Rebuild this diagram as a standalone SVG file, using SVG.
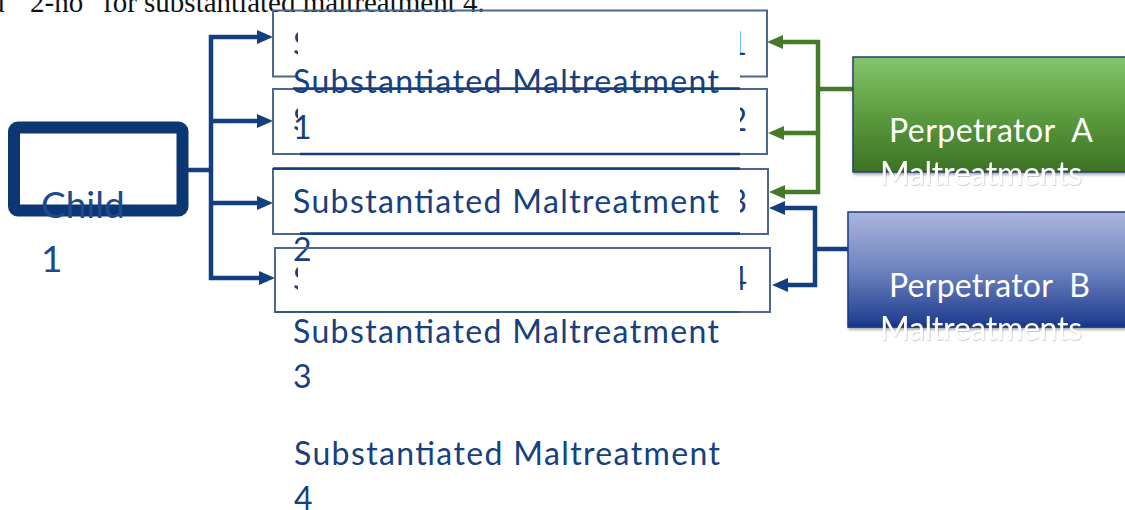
<svg xmlns="http://www.w3.org/2000/svg" width="1125" height="510" viewBox="0 0 1125 510">
<defs>
  <style>
    .top { font-family: "Liberation Serif", serif; font-size: 29px; fill: #111; }
    .lbl { font-family: Lato, "Liberation Sans", sans-serif; font-size: 32px; fill: #16407e; }
    .child { font-family: Lato, "Liberation Sans", sans-serif; font-size: 37px; fill: #1d4b8a; }
    .perp { font-family: Lato, "Liberation Sans", sans-serif; font-size: 32px; fill: #ffffff; }
    .box { fill: none; stroke: #4a6790; stroke-width: 2; }
    .dark { stroke: #123e7e; stroke-width: 2.5; fill: none; }
    .cb { fill: none; stroke: #133f80; stroke-width: 4.5; }
    .cg { fill: none; stroke: #467a2a; stroke-width: 4.5; }
  </style>
  <marker id="ab" markerUnits="userSpaceOnUse" markerWidth="17" markerHeight="14" refX="4" refY="7" orient="auto">
    <path d="M0,0 L16,7 L0,14 z" fill="#133f80"/>
  </marker>
  <marker id="ag" markerUnits="userSpaceOnUse" markerWidth="17" markerHeight="14" refX="4" refY="7" orient="auto">
    <path d="M0,0 L16,7 L0,14 z" fill="#467a2a"/>
  </marker>
  <linearGradient id="gA" x1="0" y1="0" x2="0" y2="1">
    <stop offset="0" stop-color="#83c56b"/>
    <stop offset="0.5" stop-color="#5c9c3f"/>
    <stop offset="1" stop-color="#3c7224"/>
  </linearGradient>
  <linearGradient id="gB" x1="0" y1="0" x2="0" y2="1">
    <stop offset="0" stop-color="#aab6dc"/>
    <stop offset="0.5" stop-color="#6f83bf"/>
    <stop offset="1" stop-color="#1c3a8e"/>
  </linearGradient>
  <filter id="sh" x="-10%" y="-20%" width="120%" height="150%">
    <feDropShadow dx="1" dy="2" stdDeviation="1.5" flood-color="#000" flood-opacity="0.35"/>
  </filter>
  <filter id="tsh" x="-5%" y="-30%" width="110%" height="160%">
    <feDropShadow dx="0.5" dy="0.6" stdDeviation="0.6" flood-color="#444" flood-opacity="0.45"/>
  </filter>
  <clipPath id="peek">
    <rect x="0" y="0" width="298" height="510"/>
    <rect x="740" y="0" width="100" height="510"/>
  </clipPath>
</defs>

<text class="top" y="12"><tspan x="-10">d</tspan><tspan x="30">2-no</tspan><tspan x="103">for substantiated maltreatment 4.</tspan></text>

<g id="connectors">
  <path class="cb" d="M180,170 H211"/>
  <path class="cb" d="M211,35 V280"/>
  <path class="cb" d="M209,37 H261" marker-end="url(#ab)"/>
  <path class="cb" d="M211,121 H261" marker-end="url(#ab)"/>
  <path class="cb" d="M211,203 H261" marker-end="url(#ab)"/>
  <path class="cb" d="M209,278 H263" marker-end="url(#ab)"/>
  <path class="cg" d="M853,89 H818"/>
  <path class="cg" d="M818,40 V194"/>
  <path class="cg" d="M820,42 H779" marker-end="url(#ag)"/>
  <path class="cg" d="M818,133 H780" marker-end="url(#ag)"/>
  <path class="cg" d="M820,192 H781" marker-end="url(#ag)"/>
  <path class="cb" d="M849,249 H815"/>
  <path class="cb" d="M815,206 V287"/>
  <path class="cb" d="M817,208 H781" marker-end="url(#ab)"/>
  <path class="cb" d="M817,285 H784" marker-end="url(#ab)"/>
</g>

<g id="child">
  <rect x="14" y="127.5" width="168.5" height="83" rx="4" fill="none" stroke="#0c3774" stroke-width="12"/>
  <text class="child" x="41" y="218">Child</text>
  <text class="child" x="41" y="272">1</text>
</g>

<g id="sm1">
  <rect class="box" x="273" y="10.5" width="494" height="66"/>
  <text class="lbl" x="293" y="55" clip-path="url(#peek)" textLength="454">Substantiated Maltreatment 1</text>
  <rect x="298" y="12" width="442" height="66" fill="#fff"/>
  <text class="lbl" x="293" y="93" textLength="426">Substantiated Maltreatment</text>
  <text class="lbl" x="293" y="139">1</text>
</g>

<g id="sm2">
  <rect class="box" x="273" y="89" width="494" height="65"/>
  <text class="lbl" x="293" y="131" clip-path="url(#peek)" textLength="454">Substantiated Maltreatment 2</text>
  <line class="dark" x1="293" y1="88.5" x2="740" y2="88.5"/>
  <line class="dark" x1="300" y1="154" x2="740" y2="154"/>
</g>

<g id="sm3">
  <rect class="box" x="273" y="169" width="495" height="65"/>
  <text class="lbl" x="293" y="213" clip-path="url(#peek)" textLength="454">Substantiated Maltreatment 3</text>
  <line class="dark" x1="273" y1="168.5" x2="740" y2="168.5"/>
  <line class="dark" x1="300" y1="233.5" x2="740" y2="233.5"/>
  <text class="lbl" x="293" y="213" textLength="426">Substantiated Maltreatment</text>
  <text class="lbl" x="293" y="261">2</text>
</g>

<g id="sm4">
  <rect class="box" x="275" y="248" width="495" height="64"/>
  <text class="lbl" x="293" y="290" clip-path="url(#peek)" textLength="454">Substantiated Maltreatment 4</text>
  <line x1="275" y1="312" x2="740" y2="312" stroke="#2f5790" stroke-width="2"/>
  <text class="lbl" x="293" y="343" textLength="426">Substantiated Maltreatment</text>
  <text class="lbl" x="293" y="388">3</text>
  <text class="lbl" x="294" y="465" textLength="426">Substantiated Maltreatment</text>
  <text class="lbl" x="294" y="510">4</text>
</g>

<g id="perpA">
  <rect x="853" y="57" width="280" height="115" fill="url(#gA)" stroke="#24406e" stroke-width="1.5" filter="url(#sh)"/>
  <text class="perp" x="889" y="142" xml:space="preserve" textLength="204">Perpetrator  A</text>
  <text class="perp" x="880" y="185" filter="url(#tsh)" textLength="202">Maltreatments</text>
</g>

<g id="perpB">
  <rect x="848" y="212" width="285" height="115" fill="url(#gB)" stroke="#1d3c85" stroke-width="1.5" filter="url(#sh)"/>
  <line x1="848" y1="325.5" x2="1125" y2="325.5" stroke="#16378a" stroke-width="4"/>
  <text class="perp" x="889" y="297" xml:space="preserve" textLength="201">Perpetrator  B</text>
  <text class="perp" x="880" y="340" filter="url(#tsh)" textLength="202">Maltreatments</text>
</g>
</svg>
